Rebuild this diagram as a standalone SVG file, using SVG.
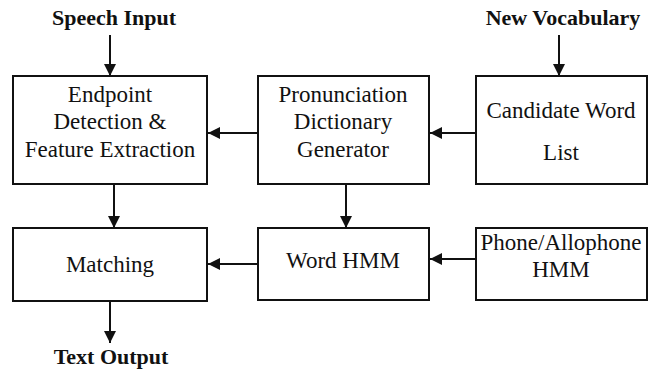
<svg xmlns="http://www.w3.org/2000/svg" width="660" height="370" viewBox="0 0 660 370">
  <style>
    .box { fill: #ffffff; stroke: #111111; stroke-width: 2; }
    .t { font-family: "Liberation Serif", "DejaVu Serif", "Times New Roman", serif; font-size: 23px; fill: #111111; text-anchor: middle; }
    .lbl { font-family: "Liberation Serif", "DejaVu Serif", "Times New Roman", serif; font-size: 22px; font-weight: bold; fill: #111111; text-anchor: middle; }
    .wire { stroke: #111111; stroke-width: 2; fill: none; marker-end: url(#head); }
  </style>
  <defs>
    <marker id="head" viewBox="0 0 12 12" refX="12" refY="6" markerWidth="12" markerHeight="12" markerUnits="userSpaceOnUse" orient="auto">
      <path d="M0,0 L12,6 L0,12 Z" fill="#111111"/>
    </marker>
  </defs>
  <rect width="660" height="370" fill="#ffffff"/>

  <!-- free-standing labels -->
  <text class="lbl" x="114" y="25">Speech Input</text>
  <text class="lbl" x="563" y="25">New Vocabulary</text>
  <text class="lbl" x="111" y="364">Text Output</text>

  <g id="endpoint">
    <rect class="box" x="13" y="76" width="194" height="108"/>
    <text class="t" x="110" y="102">Endpoint</text>
    <text class="t" x="110" y="129">Detection &amp;</text>
    <text class="t" x="110" y="157">Feature Extraction</text>
  </g>

  <g id="pronunciation">
    <rect class="box" x="258" y="76" width="171" height="108"/>
    <text class="t" x="343" y="102">Pronunciation</text>
    <text class="t" x="343" y="129">Dictionary</text>
    <text class="t" x="343" y="157">Generator</text>
  </g>

  <g id="candidate">
    <rect class="box" x="476" y="76" width="171" height="108"/>
    <text class="t" x="561" y="118">Candidate Word</text>
    <text class="t" x="561" y="160">List</text>
  </g>

  <g id="matching">
    <rect class="box" x="13" y="228" width="194" height="73"/>
    <text class="t" x="110" y="272">Matching</text>
  </g>

  <g id="word-hmm">
    <rect class="box" x="258" y="228" width="171" height="72"/>
    <text class="t" x="343" y="268">Word HMM</text>
  </g>

  <g id="phone-hmm">
    <rect class="box" x="476" y="228" width="171" height="72"/>
    <text class="t" x="561" y="250">Phone/Allophone</text>
    <text class="t" x="561" y="277">HMM</text>
  </g>

  <g id="connectors">
    <line class="wire" x1="110" y1="35" x2="110" y2="76"/>
    <line class="wire" x1="559" y1="35" x2="559" y2="76"/>
    <line class="wire" x1="258" y1="133" x2="208" y2="133"/>
    <line class="wire" x1="476" y1="133" x2="430" y2="133"/>
    <line class="wire" x1="114" y1="184" x2="114" y2="228"/>
    <line class="wire" x1="346" y1="184" x2="346" y2="228"/>
    <line class="wire" x1="258" y1="264" x2="208" y2="264"/>
    <line class="wire" x1="476" y1="259" x2="430" y2="259"/>
    <line class="wire" x1="110" y1="301" x2="110" y2="343"/>
  </g>
</svg>
